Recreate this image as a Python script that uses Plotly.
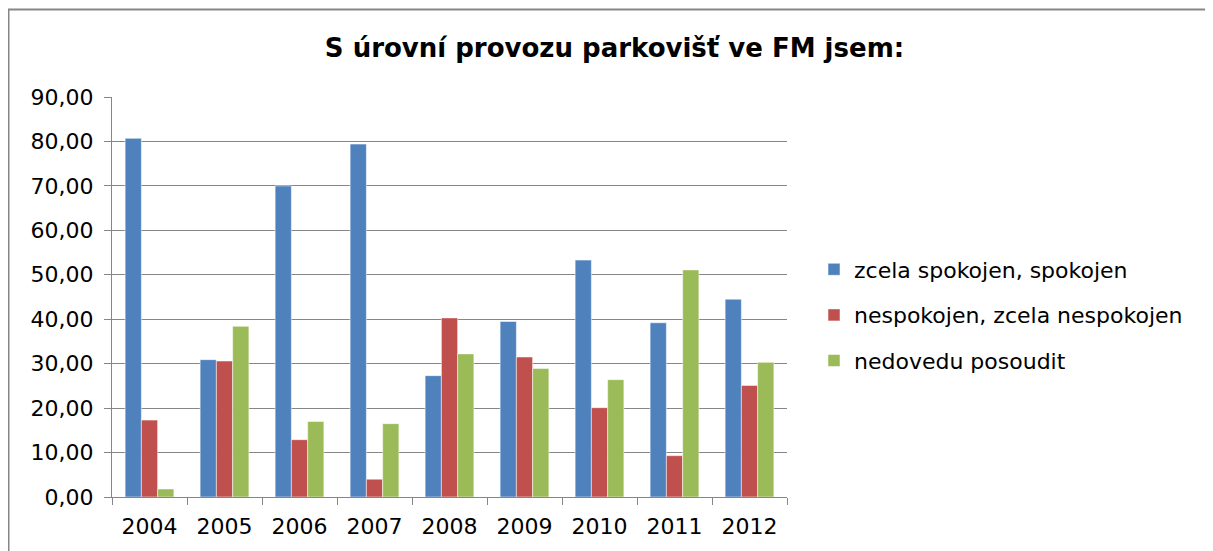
import plotly.graph_objects as go

years = ['2004', '2005', '2006', '2007', '2008', '2009', '2010', '2011', '2012']

spokojen = [80.7, 30.9, 70.0, 79.4, 27.3, 39.5, 53.3, 39.2, 44.5]
nespokojen = [17.3, 30.6, 12.9, 4.0, 40.3, 31.5, 20.1, 9.3, 25.1]
nedovedu = [1.8, 38.4, 17.0, 16.5, 32.2, 28.9, 26.4, 51.1, 30.3]

series_names = ['zcela spokojen, spokojen', 'nespokojen, zcela nespokojen', 'nedovedu posoudit']
series_colors = ['#4F81BD', '#C0504D', '#9BBB59']

FONT = 'DejaVu Sans, Arial, sans-serif'

fig = go.Figure()
for i, (name, vals, col) in enumerate(zip(series_names, [spokojen, nespokojen, nedovedu], series_colors)):
    fig.add_trace(go.Bar(
        x=years, y=vals, name=name,
        marker=dict(color=col, line=dict(color='rgba(255,255,255,0.5)', width=1)),
        legendgroup=f'g{i}',
    ))

fig.update_layout(
    width=1213, height=551,
    margin=dict(l=104, r=434, t=89, b=62),
    paper_bgcolor='white', plot_bgcolor='white',
    font=dict(family=FONT, size=22, color='black'),
    separators=', ',
    barmode='group', bargap=0.35, bargroupgap=0,
    title=dict(text='<b>S úrovní provozu parkovišť ve FM jsem:</b>',
               x=0.5, xref='container', xanchor='center',
               y=1 - 40 / 551, yanchor='middle',
               font=dict(family=FONT, size=26, color='black')),
    legend=dict(x=1.04, xanchor='left', y=0.455, yanchor='middle',
                font=dict(family=FONT, size=22), tracegroupgap=14,
                itemwidth=30, bgcolor='rgba(0,0,0,0)'),
    showlegend=True,
)

fig.update_xaxes(
    type='category', showline=True, linecolor='#868686', linewidth=1,
    ticks='outside', tickson='boundaries', ticklen=7, tickcolor='#868686',
    showgrid=False, tickfont=dict(size=22), ticklabelstandoff=10,
)
fig.update_yaxes(
    range=[0, 90], dtick=10, tickformat='.2f',
    showline=True, linecolor='#868686', linewidth=1,
    ticks='outside', ticklen=7, tickcolor='#868686',
    showgrid=True, gridcolor='#868686', gridwidth=1,
    zeroline=False, tickfont=dict(size=22), ticklabelstandoff=6,
)

# chart-area border (Excel style)
fig.add_shape(type='rect', xref='paper', yref='paper',
              x0=(0.5 - 104) / 675, x1=1.8, y0=-0.5, y1=(489 - 1.5) / 400,
              line=dict(color='#868686', width=2), layer='below')

fig.write_html('out.html')
